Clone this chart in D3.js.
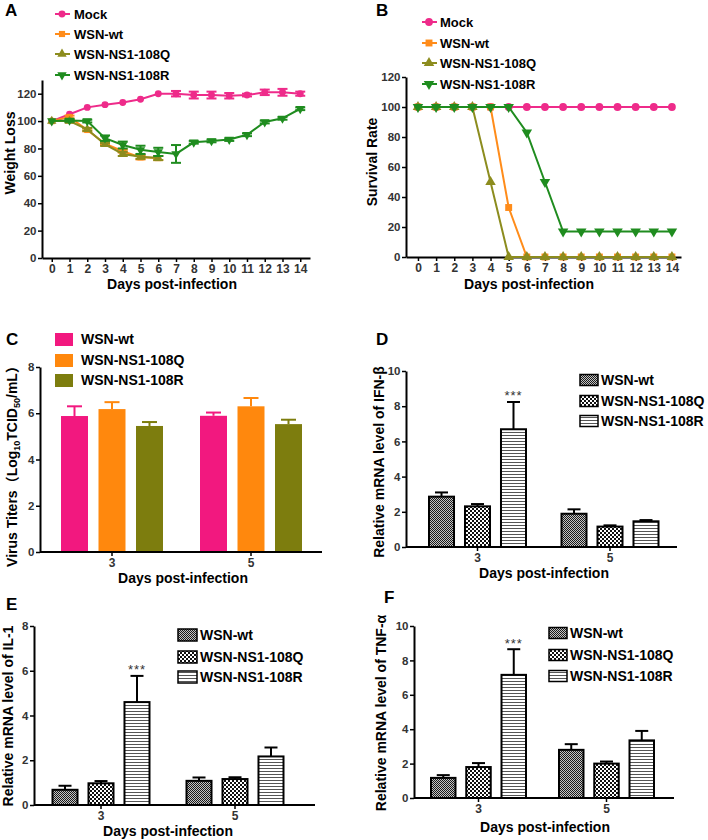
<!DOCTYPE html>
<html><head><meta charset="utf-8">
<script src="https://cdn.jsdelivr.net/npm/d3@7"></script>
<style>body{margin:0;background:#fff}svg{display:block}</style>
</head><body><svg id="c" width="708" height="840"></svg>
<script>
// ---------- DATA ----------
const daysA = [0,1,2,3,4,5,6,7,8,9,10,11,12,13,14];
const weightTicks = [0,20,40,60,80,100,120];
const weightMock = [100,105,110,112,113.5,116,120,120,119,119,118.5,119,121,121,120];
const weightMockErr = [0,0.5,0.5,0.5,0.5,0.5,0.5,2,2.5,2.5,2,1,2,2.5,1.5];
const weightWt = [100,103,93.5,83.5,78,73.5,73];
const weightWtErr = [0,1,1,1,1,1.5,1.5];
const weightQ = [100,100,94,83,76,74,73];
const weightQErr = [0,1,1,1,1.5,1.5,1.5];
const weightR = [100,100.5,100,87.5,82.5,79,77.5,76,84.5,85.5,86.5,90,99.3,102,109];
const weightRErr = [0,1,1,2,2.5,3,3,6.5,1,1,1,1,1,1,1];

const survTicks = [0,20,40,60,80,100,120];
const survMock = [100,100,100,100,100,100,100,100,100,100,100,100,100,100,100];
const survWt = [100,100,100,100,100,33,0,0,0,0,0,0,0,0,0];
const survQ = [100,100,100,100,50,0,0,0,0,0,0,0,0,0,0];
const survR = [100,100,100,100,100,100,83,50,17,17,17,17,17,17,17];

const lineSeries = ["Mock","WSN-wt","WSN-NS1-108Q","WSN-NS1-108R"];
const barDays = ["3","5"];
const barGroups = ["WSN-wt","WSN-NS1-108Q","WSN-NS1-108R"];

const titerTicks = [0,2,4,6,8];
const titerWt = [5.88,5.89], titerWtErr = [0.42,0.14];
const titerQ = [6.18,6.3], titerQErr = [0.3,0.36];
const titerR = [5.45,5.53], titerRErr = [0.17,0.19];

const ifnTicks = [0,2,4,6,8,10];
const ifnWt = [2.86,1.89], ifnWtErr = [0.24,0.25];
const ifnQ = [2.31,1.16], ifnQErr = [0.13,0.07];
const ifnR = [6.69,1.46], ifnRErr = [1.55,0.07];

const il1Ticks = [0,2,4,6,8];
const il1Wt = [0.68,1.08], il1WtErr = [0.18,0.15];
const il1Q = [0.97,1.16], il1QErr = [0.1,0.08];
const il1R = [4.6,2.17], il1RErr = [1.17,0.4];

const tnfTicks = [0,2,4,6,8,10];
const tnfWt = [1.17,2.8], tnfWtErr = [0.16,0.33];
const tnfQ = [1.8,2.0], tnfQErr = [0.23,0.12];
const tnfR = [7.16,3.35], tnfRErr = [1.49,0.55];

// ---------- STYLE ----------
const FONT = '"Liberation Sans", Arial, "Noto Sans CJK SC", sans-serif';
const C_MOCK = "#ee2b8a", C_WT = "#ff8c1a", C_Q = "#8c8c1e", C_R = "#1f8c1f";
const B_PINK = "#f2187f", B_ORANGE = "#ff880d", B_OLIVE = "#7d7d0e";

const svg = d3.select("#c");
const defs = svg.append("defs");
function pattern(id, w, h, bg, rects){
  const p = defs.append("pattern").attr("id",id).attr("width",w).attr("height",h).attr("patternUnits","userSpaceOnUse");
  p.append("rect").attr("width",w).attr("height",h).attr("fill",bg);
  rects.forEach(r=>p.append("rect").attr("x",r[0]).attr("y",r[1]).attr("width",r[2]).attr("height",r[3]).attr("fill",r[4]));
}
pattern("pWt",2,2,"#c4c4c4",[[0,0,1,1,"#1a1a1a"],[1,1,1,1,"#1a1a1a"]]);
pattern("pQ",4,4,"#ffffff",[[0,0,2,2,"#111"],[2,2,2,2,"#111"]]);
pattern("pR",4,3,"#ffffff",[[0,0,4,1,"#555"]]);

function axisStyle(g, fs){
  g.attr("font-family",FONT).attr("font-size",fs||12).attr("font-weight","bold");
  g.select(".domain").attr("stroke","#000").attr("stroke-width",2);
  g.selectAll(".tick line").attr("stroke","#000").attr("stroke-width",1.5);
  g.selectAll(".tick text").attr("fill","#333");
}
function text(x,y,t,opt){
  opt = opt||{};
  return svg.append("text").attr("x",x).attr("y",y).text(t)
    .attr("font-family",FONT).attr("font-weight",opt.weight||"bold")
    .attr("font-size",opt.size||14).attr("fill",opt.fill||"#000")
    .attr("text-anchor",opt.anchor||"start");
}
function yLabel(cx, cy, t){
  return svg.append("text").attr("transform",`translate(${cx},${cy}) rotate(-90)`)
    .attr("text-anchor","middle").attr("dy","0.35em")
    .attr("font-family",FONT).attr("font-weight","bold").attr("font-size",14).attr("fill","#000").text(t);
}

// ---------- LINE PANELS ----------
function linePanel(o){
  const g = svg.append("g");
  const y0 = o.y.range()[0], x0 = o.x.range()[0];
  g.append("g").attr("transform",`translate(0,${y0})`)
    .call(d3.axisBottom(o.x).tickValues(daysA).tickSize(4).tickSizeOuter(0).tickPadding(2)).call(axisStyle, 12);
  g.append("g").attr("transform",`translate(${x0},0)`)
    .call(d3.axisLeft(o.y).tickValues(o.yt).tickSize(4).tickSizeOuter(0).tickPadding(1.5)).call(axisStyle, 11.5);
  o.series.forEach(s=>{
    const pts = s.vals.map((v,i)=>({d:daysA[i], v:v, e: s.errs ? s.errs[i] : 0}));
    g.append("path").datum(pts).attr("fill","none").attr("stroke",s.color).attr("stroke-width",2)
      .attr("d", d3.line().x(p=>o.x(p.d)).y(p=>o.y(p.v)));
    const eg = g.append("g").attr("stroke",s.color).attr("stroke-width",2);
    pts.filter(p=>p.e>0.6).forEach(p=>{
      const cx=o.x(p.d), y1=o.y(p.v+p.e), y2=o.y(p.v-p.e);
      eg.append("line").attr("x1",cx).attr("x2",cx).attr("y1",y1).attr("y2",y2);
      eg.append("line").attr("x1",cx-5).attr("x2",cx+5).attr("y1",y1).attr("y2",y1);
      eg.append("line").attr("x1",cx-5).attr("x2",cx+5).attr("y1",y2).attr("y2",y2);
    });
    g.append("g").selectAll("path").data(pts).join("path")
      .attr("transform",p=>`translate(${o.x(p.d)},${o.y(p.v)})${s.rot?" rotate(180)":""}`)
      .attr("d", d3.symbol(s.sym, s.size||o.msize)()).attr("fill",s.color);
  });
  o.series.forEach((s,i)=>{
    const ly = o.legY[i];
    svg.append("line").attr("x1",o.legX-7).attr("x2",o.legX+8).attr("y1",ly).attr("y2",ly).attr("stroke",s.color).attr("stroke-width",2);
    svg.append("path").attr("transform",`translate(${o.legX},${ly})${s.rot?" rotate(180)":""}`)
      .attr("d", d3.symbol(s.sym, s.size||o.msize)()).attr("fill",s.color);
    text(o.legTX, ly, lineSeries[i], {size:13}).attr("dy","0.35em");
  });
}

const xA = d3.scaleLinear().domain([-0.55,14.55]).range([42,310]);
const yA = d3.scaleLinear().domain([0,130]).range([258,80]);
linePanel({x:xA, y:yA, yt:weightTicks, msize:38, legX:62, legTX:74, legY:[14,34,54,75],
  series:[
    {vals:weightMock, errs:weightMockErr, color:C_MOCK, sym:d3.symbolCircle},
    {vals:weightWt, errs:weightWtErr, color:C_WT, sym:d3.symbolSquare},
    {vals:weightQ, errs:weightQErr, color:C_Q, sym:d3.symbolTriangle},
    {vals:weightR, errs:weightRErr, color:C_R, sym:d3.symbolTriangle, rot:true}
  ]});
text(5,16,"A",{size:17});
yLabel(10,153,"Weight Loss");
text(172,289,"Days post-infection",{anchor:"middle"});

const xB = d3.scaleLinear().domain([-0.66,14.5]).range([406,681]);
const yB = d3.scaleLinear().domain([0,120]).range([257,77]);
linePanel({x:xB, y:yB, yt:survTicks, msize:48, legX:429, legTX:440, legY:[22,43,63,84],
  series:[
    {vals:survMock, color:C_MOCK, sym:d3.symbolCircle},
    {vals:survWt, color:C_WT, sym:d3.symbolSquare},
    {vals:survQ, color:C_Q, sym:d3.symbolTriangle},
    {vals:survR, color:C_R, sym:d3.symbolTriangle, rot:true}
  ]});
text(376,16,"B",{size:17});
yLabel(372,162,"Survival Rate");
text(529,289,"Days post-infection",{anchor:"middle"});

// ---------- BAR PANELS ----------
function barPanel(o){
  const g = svg.append("g");
  const step = o.c2 - o.c1, pi = 1 - o.bw/step;
  const xb = d3.scaleBand().domain(barDays).range([o.c1-step/2, o.c2+step/2]).paddingInner(pi).paddingOuter(pi/2);
  const xi = d3.scaleBand().domain(barGroups).range([0, xb.bandwidth()]).paddingInner(o.ip);
  const y0 = o.y.range()[0];
  o.series.forEach((s,j)=>{
    s.vals.forEach((v,i)=>{
      const x = xb(barDays[i]) + xi(barGroups[j]), w = xi.bandwidth(), cx = x + w/2;
      const top = o.y(v + s.errs[i]);
      g.append("line").attr("x1",cx).attr("x2",cx).attr("y1",o.y(v)).attr("y2",top).attr("stroke",s.err).attr("stroke-width",2);
      g.append("line").attr("x1",cx-o.cap/2).attr("x2",cx+o.cap/2).attr("y1",top).attr("y2",top).attr("stroke",s.err).attr("stroke-width",2);
      const r = g.append("rect").attr("x",x).attr("y",o.y(v)).attr("width",w).attr("height",y0-o.y(v)).attr("fill",s.fill);
      if (s.stroke) r.attr("stroke",s.stroke).attr("stroke-width",2);
      if (o.stars && s.starAt === i){
        text(cx, top-1.5, "***", {weight:"normal", size:13, fill:"#333", anchor:"middle"}).attr("letter-spacing",1);
      }
    });
  });
  const ax = g.append("g").attr("transform",`translate(0,${y0})`)
    .call(d3.axisBottom(xb).tickSize(4).tickSizeOuter(0).tickPadding(2)).call(axisStyle, 12);
  ax.select(".domain").remove();
  g.append("line").attr("x1",o.ax0).attr("x2",o.ax1).attr("y1",y0).attr("y2",y0).attr("stroke","#000").attr("stroke-width",2);
  g.append("g").attr("transform",`translate(${o.ax0},0)`)
    .call(d3.axisLeft(o.y).tickValues(o.yt).tickSize(4).tickSizeOuter(0).tickPadding(1.5)).call(axisStyle, 11.5);
  o.series.forEach((s,j)=>{
    const cy = o.legY[j];
    const r = svg.append("rect").attr("x",o.legX).attr("y",cy-o.sh/2).attr("width",o.sw).attr("height",o.sh).attr("fill",s.fill);
    if (s.stroke) r.attr("stroke","#000").attr("stroke-width",1.5);
    text(o.legTX, cy, barGroups[j], {size:14}).attr("dy","0.35em");
  });
}

// C
barPanel({c1:112, c2:251, bw:102, ip:0.28, cap:15, ax0:40, ax1:322,
  y:d3.scaleLinear().domain([0,8]).range([552,367]), yt:titerTicks,
  legX:55, legTX:81, legY:[339.5,360.5,380.5], sw:18, sh:13,
  series:[
    {vals:titerWt, errs:titerWtErr, fill:B_PINK, err:B_PINK},
    {vals:titerQ, errs:titerQErr, fill:B_ORANGE, err:B_ORANGE},
    {vals:titerR, errs:titerRErr, fill:B_OLIVE, err:B_OLIVE}
  ]});
text(6,345,"C",{size:17});
const cl = svg.append("text").attr("transform","translate(12,463) rotate(-90)").attr("text-anchor","middle").attr("dy","0.35em")
  .attr("font-family",FONT).attr("font-weight","bold").attr("font-size",14).attr("fill","#000");
cl.append("tspan").text("Virus Titers（Log");
cl.append("tspan").attr("font-size",9).attr("dy",3).text("10");
cl.append("tspan").attr("dy",-3).text("TCID");
cl.append("tspan").attr("font-size",9).attr("dy",3).text("50");
cl.append("tspan").attr("dy",-3).text("/mL）");
text(183,583,"Days post-infection",{anchor:"middle"});

// D
barPanel({c1:477.5, c2:610, bw:97, ip:0.305, cap:13, ax0:406, ax1:677, stars:true,
  y:d3.scaleLinear().domain([0,10]).range([547,371]), yt:ifnTicks,
  legX:580, legTX:601, legY:[380,401,421], sw:18, sh:11,
  series:[
    {vals:ifnWt, errs:ifnWtErr, fill:"url(#pWt)", stroke:"#000", err:"#000"},
    {vals:ifnQ, errs:ifnQErr, fill:"url(#pQ)", stroke:"#000", err:"#000"},
    {vals:ifnR, errs:ifnRErr, fill:"url(#pR)", stroke:"#000", err:"#000", starAt:0}
  ]});
text(376,345,"D",{size:17});
yLabel(379,462,"Relative mRNA level of IFN-β");
text(544,578,"Days post-infection",{anchor:"middle"});

// E
barPanel({c1:101, c2:235, bw:97, ip:0.305, cap:13, ax0:34, ax1:315, stars:true,
  y:d3.scaleLinear().domain([0,8]).range([805,626]), yt:il1Ticks,
  legX:178, legTX:200, legY:[635,657,677], sw:19, sh:12,
  series:[
    {vals:il1Wt, errs:il1WtErr, fill:"url(#pWt)", stroke:"#000", err:"#000"},
    {vals:il1Q, errs:il1QErr, fill:"url(#pQ)", stroke:"#000", err:"#000"},
    {vals:il1R, errs:il1RErr, fill:"url(#pR)", stroke:"#000", err:"#000", starAt:0}
  ]});
text(6,610,"E",{size:17});
yLabel(8,716,"Relative mRNA level of IL-1");
text(168,836,"Days post-infection",{anchor:"middle"});

// F
barPanel({c1:478.5, c2:606.5, bw:95, ip:0.305, cap:13, ax0:414, ax1:674, stars:true,
  y:d3.scaleLinear().domain([0,10]).range([798,626]), yt:tnfTicks,
  legX:549, legTX:570, legY:[633,655,676], sw:18, sh:11,
  series:[
    {vals:tnfWt, errs:tnfWtErr, fill:"url(#pWt)", stroke:"#000", err:"#000"},
    {vals:tnfQ, errs:tnfQErr, fill:"url(#pQ)", stroke:"#000", err:"#000"},
    {vals:tnfR, errs:tnfRErr, fill:"url(#pR)", stroke:"#000", err:"#000", starAt:0}
  ]});
text(384,603,"F",{size:17});
yLabel(381,713,"Relative mRNA level of TNF-α");
text(545,832,"Days post-infection",{anchor:"middle"});
</script>
</body></html>
